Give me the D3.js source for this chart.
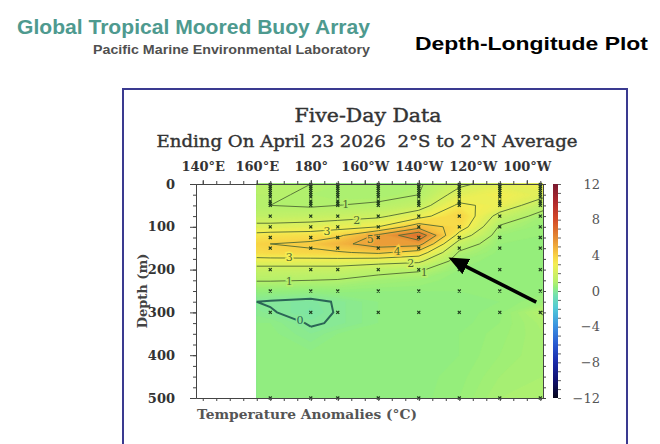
<!DOCTYPE html>
<html>
<head>
<meta charset="utf-8">
<script src="https://cdn.jsdelivr.net/npm/d3@7"></script>
<style>
  body { margin: 0; background: #fff; }
  svg { display: block; }
</style>
</head>
<body>
<svg id="chart" width="660" height="444"></svg>
<script>
// grid columns (degrees east) and rows (depth, m)
const lons = [160, 165, 180, 190, 205, 220, 235, 250, 266];
const depths = [0, 25, 50, 75, 100, 120, 140, 160, 180, 200, 225, 250, 275, 300, 325, 350, 400, 450, 500];

// temperature anomaly (°C), one row per depth, one value per column
const anomaly = [
    [1.1, 1.1, 1.0, 0.9, 0.8, 0.9, 1.8, 2.4, 3.0],
    [1.1, 1.1, 0.9, 0.8, 0.8, 1.0, 2.4, 3.0, 2.3],
    [1.0, 1.0, 0.9, 1.0, 1.1, 1.5, 3.2, 2.7, 1.3],
    [1.4, 1.4, 1.5, 1.6, 1.8, 2.6, 3.9, 1.6, 0.7],
    [2.3, 2.3, 2.4, 2.6, 3.0, 4.6, 3.6, 0.9, 0.5],
    [3.3, 3.4, 3.5, 3.8, 5.2, 6.8, 2.6, 0.6, 0.5],
    [3.9, 4.0, 4.2, 4.7, 5.5, 5.4, 1.5, 0.5, 0.4],
    [3.6, 3.7, 3.8, 3.9, 4.2, 3.6, 0.9, 0.45, 0.4],
    [2.6, 2.6, 2.6, 2.6, 2.4, 2.2, 0.6, 0.4, 0.4],
    [1.6, 1.6, 1.6, 1.6, 1.3, 1.1, 0.5, 0.4, 0.4],
    [1.05, 1.05, 1.0, 0.95, 0.7, 0.6, 0.4, 0.4, 0.4],
    [0.45, 0.45, 0.4, 0.45, 0.4, 0.4, 0.4, 0.4, 0.45],
    [0.0, -0.05, -0.15, 0.05, 0.3, 0.35, 0.35, 0.4, 0.6],
    [0.15, 0.05, -0.25, 0.05, 0.3, 0.35, 0.35, 0.45, 1.05],
    [0.3, 0.3, -0.05, 0.05, 0.3, 0.35, 0.35, 0.5, 0.85],
    [0.35, 0.35, 0.1, 0.3, 0.3, 0.35, 0.4, 0.55, 0.8],
    [0.35, 0.35, 0.35, 0.35, 0.35, 0.35, 0.4, 0.6, 0.8],
    [0.35, 0.35, 0.35, 0.35, 0.35, 0.35, 0.45, 0.7, 0.8],
    [0.35, 0.35, 0.35, 0.35, 0.35, 0.35, 0.5, 0.8, 0.85]
];

// mooring positions
const moorLons = [165, 180, 190, 205, 220, 235, 250, 265];
const moorDepths = [1, 5, 10, 15, 20, 25, 30, 40, 45, 50, 75, 100, 125, 150, 200, 250, 300, 500];

const lonTicks = [140, 160, 180, 200, 220, 240, 260];
const depthTicks = [0, 100, 200, 300, 400, 500];
const colorTicks = [12, 8, 4, 0, -4, -8, -12];
const lineLevels = [1, 2, 3, 4, 5, 6];

// contour labels: [level, lon, depth]
const contourLabels = [
    [1, 193, 47], [2, 197, 84], [3, 186, 110], [5, 202, 128], [4, 212, 157],
    [3, 172, 172], [2, 217, 184], [1, 222, 205], [1, 172, 227], [0, 176, 318]
];

// arrow, tail then tip, in lon / depth
const arrowPts = [[263.5, 276], [231, 172]];

// palette
const colorStops = [-12, -10, -8, -6, -4, -2, -0.5, 0, 0.4, 1, 2, 3, 4, 5, 6, 7, 8, 10, 12];
const colorHex = ['#05051a', '#101070', '#1a2aa8', '#2858d0', '#3a90e0', '#50c8d8', '#72e0b0', '#86e898',
    '#92ee7c', '#b4f06c', '#d4f060', '#f4ee52', '#f8d044', '#f0ac3c', '#e48a34', '#dc6a2c', '#d44a28',
    '#b0282c', '#7a1a30'];

const svg = d3.select('#chart');
const serif = "'DejaVu Serif', 'Liberation Serif', serif";
const sans = "'Liberation Sans', Arial, sans-serif";

const color = d3.scaleLinear().domain(colorStops).range(colorHex).clamp(true);

const x = d3.scaleLinear().domain([137.5, 266]).range([196, 543]);
const y = d3.scaleLinear().domain([0, 500]).range([184, 398]);

// ---- header ----
svg.append('text').attr('x', 17).attr('y', 34)
    .attr('font-family', sans).attr('font-weight', 'bold').attr('font-size', 20)
    .attr('fill', '#4e9a8f').attr('textLength', 353).attr('lengthAdjust', 'spacingAndGlyphs')
    .text('Global Tropical Moored Buoy Array');
svg.append('text').attr('x', 93).attr('y', 54)
    .attr('font-family', sans).attr('font-weight', 'bold').attr('font-size', 12.5)
    .attr('fill', '#505050').attr('textLength', 277).attr('lengthAdjust', 'spacingAndGlyphs')
    .text('Pacific Marine Environmental Laboratory');
svg.append('text').attr('x', 415).attr('y', 50)
    .attr('font-family', sans).attr('font-weight', 'bold').attr('font-size', 19)
    .attr('fill', '#000').attr('textLength', 233).attr('lengthAdjust', 'spacingAndGlyphs')
    .text('Depth-Longitude Plot');

// frame
svg.append('rect').attr('x', 123).attr('y', 89).attr('width', 504).attr('height', 380)
    .attr('fill', 'none').attr('stroke', '#3a3a90').attr('stroke-width', 2);

svg.append('text').attr('x', 368).attr('y', 122).attr('text-anchor', 'middle')
    .attr('font-family', serif).attr('font-size', 18).attr('fill', '#333')
    .attr('stroke', '#333').attr('stroke-width', 0.4)
    .attr('textLength', 147).attr('lengthAdjust', 'spacingAndGlyphs')
    .text('Five-Day Data');
svg.append('text').attr('x', 367).attr('y', 147).attr('text-anchor', 'middle')
    .attr('font-family', serif).attr('font-size', 17).attr('fill', '#333')
    .attr('stroke', '#333').attr('stroke-width', 0.4)
    .style('white-space', 'pre')
    .attr('textLength', 421).attr('lengthAdjust', 'spacingAndGlyphs')
    .text('Ending On April 23 2026  2°S to 2°N Average');

// ---- filled field ----
const n = lons.length, m = depths.length;
const values = anomaly.flat();
const gx = d3.scaleLinear().domain(lons.map((d, i) => i + 0.5)).range(lons).clamp(true);
const gy = d3.scaleLinear().domain(depths.map((d, i) => i + 0.5)).range(depths).clamp(true);
const toPx = p => [x(gx(p[0])), y(gy(p[1]))];
const proj = d3.geoTransform({
    point: function (px, py) {
        const q = toPx([px, py]);
        this.stream.point(q[0], q[1]);
    }
});
const path = d3.geoPath(proj);

const bandLevels = d3.range(-10, 80).map(i => i / 10);
const bands = d3.contours().size([n, m]).thresholds(bandLevels)(values);

const plot = svg.append('g');
plot.append('rect').attr('x', 196).attr('y', 184).attr('width', 347).attr('height', 214).attr('fill', '#fff');
plot.selectAll('path.band')
    .data(bands)
    .enter().append('path')
    .attr('class', 'band')
    .attr('d', path)
    .attr('fill', d => color(d.value + 0.05))
    .attr('stroke', d => color(d.value + 0.05))
    .attr('stroke-width', 0.3);

// contour lines, without the pieces that run along the grid edge
const x0 = x(lons[0]), x1 = x(lons[n - 1]), y0 = y(depths[0]), y1 = y(depths[m - 1]);
function onEdge(a, b)
{
    return (a[0] === x0 && b[0] === x0) || (a[0] === x1 && b[0] === x1) ||
        (a[1] === y0 && b[1] === y0) || (a[1] === y1 && b[1] === y1);
}
function openLines(geom)
{
    var segs = [];
    geom.coordinates.forEach(function (poly)
    {
        poly.forEach(function (ring)
        {
            var pts = ring.map(toPx);
            var cur = [];
            for (var k = 1; k < pts.length; k++)
            {
                var a = pts[k - 1], b = pts[k];
                if (onEdge(a, b))
                {
                    if (cur.length > 1) segs.push(cur);
                    cur = [];
                    continue;
                }
                if (!cur.length) cur.push(a);
                cur.push(b);
            }
            if (cur.length > 1) segs.push(cur);
        });
    });
    return segs;
}

const line = d3.line();
const lineGeoms = d3.contours().size([n, m]).thresholds(lineLevels)(values);
lineGeoms.forEach(function (g)
{
    plot.append('g').selectAll('path')
        .data(openLines(g))
        .enter().append('path')
        .attr('d', line)
        .attr('fill', 'none')
        .attr('stroke', '#4f6a34')
        .attr('stroke-width', 0.9);
});
const zeroGeom = d3.contours().size([n, m]).thresholds([0])(values)[0];
plot.append('g').selectAll('path')
    .data(openLines(zeroGeom))
    .enter().append('path')
    .attr('d', line)
    .attr('fill', 'none')
    .attr('stroke', '#2b6656')
    .attr('stroke-width', 2);

// mooring markers
const moorings = moorLons.flatMap(lo => moorDepths.map(de => [lo, de]));
plot.append('g').selectAll('path')
    .data(moorings)
    .enter().append('path')
    .attr('d', d => {
        const px = x(d[0]), py = y(d[1]);
        return `M${px - 1.5},${py - 1.5}L${px + 1.5},${py + 1.5}M${px - 1.5},${py + 1.5}L${px + 1.5},${py - 1.5}`;
    })
    .attr('stroke', '#1e3a1c')
    .attr('stroke-width', 1.2);

// contour labels
plot.append('g').selectAll('text')
    .data(contourLabels)
    .enter().append('text')
    .attr('x', d => x(d[1]))
    .attr('y', d => y(d[2]))
    .attr('dy', '0.35em')
    .attr('text-anchor', 'middle')
    .attr('font-family', serif)
    .attr('font-size', 11)
    .attr('fill', d => d[0] === 0 ? '#2b6656' : '#4f6a34')
    .attr('stroke', d => color(d[0]))
    .attr('stroke-width', 3)
    .attr('paint-order', 'stroke')
    .text(d => d[0]);

// ---- axes ----
const fmtLon = d => d < 180 ? d + '°E' : d === 180 ? '180°' : (360 - d) + '°W';
const axisColor = '#444';

function styleAxis(g)
{
    g.selectAll('path, line').attr('stroke', axisColor);
    g.selectAll('text').attr('fill', '#333').attr('font-family', serif)
        .attr('font-weight', 'bold').attr('font-size', 13);
}

svg.append('g').attr('transform', 'translate(0,184)')
    .call(d3.axisTop(x).tickValues(d3.range(140, 266, 5)).tickSize(3).tickSizeOuter(0).tickFormat(''))
    .call(styleAxis);
svg.append('g').attr('transform', 'translate(0,184)')
    .call(d3.axisTop(x).tickValues(lonTicks).tickSize(4).tickSizeOuter(0).tickPadding(9).tickFormat(fmtLon))
    .call(styleAxis);
svg.append('g').attr('transform', 'translate(0,398)')
    .call(d3.axisBottom(x).tickValues(d3.range(140, 266, 5)).tickSize(3).tickSizeOuter(0).tickFormat(''))
    .call(styleAxis);
svg.append('g').attr('transform', 'translate(196,0)')
    .call(d3.axisLeft(y).tickValues(d3.range(0, 501, 25)).tickSize(3).tickSizeOuter(0).tickFormat(''))
    .call(styleAxis);
svg.append('g').attr('transform', 'translate(196,0)')
    .call(d3.axisLeft(y).tickValues(depthTicks).tickSize(6).tickSizeOuter(0).tickPadding(15))
    .call(styleAxis);
svg.append('g').attr('transform', 'translate(543,0)')
    .call(d3.axisRight(y).tickValues(d3.range(0, 501, 25)).tickSize(3).tickSizeOuter(0).tickFormat(''))
    .call(styleAxis);

svg.append('text')
    .attr('transform', 'translate(147,291) rotate(-90)')
    .attr('text-anchor', 'middle')
    .attr('font-family', serif).attr('font-weight', 'bold').attr('font-size', 13).attr('fill', '#444')
    .text('Depth (m)');
svg.append('text').attr('x', 197).attr('y', 419)
    .attr('font-family', serif).attr('font-weight', 'bold').attr('font-size', 13).attr('fill', '#555')
    .attr('textLength', 220).attr('lengthAdjust', 'spacingAndGlyphs')
    .text('Temperature Anomalies (°C)');

// ---- arrow ----
const defs = svg.append('defs');
defs.append('marker').attr('id', 'head')
    .attr('markerUnits', 'userSpaceOnUse')
    .attr('markerWidth', 22).attr('markerHeight', 18)
    .attr('refX', 4).attr('refY', 8.5)
    .attr('orient', 'auto')
    .append('path').attr('d', 'M0,0L20,8.5L0,17Z').attr('fill', '#000');
const tail = [x(arrowPts[0][0]), y(arrowPts[0][1])];
const tip = [x(arrowPts[1][0]), y(arrowPts[1][1])];
const len = Math.hypot(tip[0] - tail[0], tip[1] - tail[1]);
const end = [tip[0] - (tip[0] - tail[0]) * 16 / len, tip[1] - (tip[1] - tail[1]) * 16 / len];
svg.append('line')
    .attr('x1', tail[0]).attr('y1', tail[1]).attr('x2', end[0]).attr('y2', end[1])
    .attr('stroke', '#000').attr('stroke-width', 3.5)
    .attr('marker-end', 'url(#head)');

// ---- colour bar ----
const cb = d3.scaleLinear().domain([-12, 12]).range([398, 184]);
const grad = defs.append('linearGradient').attr('id', 'cbar')
    .attr('x1', 0).attr('y1', 1).attr('x2', 0).attr('y2', 0);
grad.selectAll('stop')
    .data(colorStops)
    .enter().append('stop')
    .attr('offset', d => (d + 12) / 24)
    .attr('stop-color', d => color(d));
svg.append('rect').attr('x', 553).attr('y', 184).attr('width', 5).attr('height', 214)
    .attr('fill', 'url(#cbar)');
svg.append('g').attr('transform', 'translate(558,0)')
    .call(d3.axisRight(cb).tickValues(d3.range(-12, 13, 1)).tickSize(3).tickFormat(''))
    .call(g => g.select('.domain').remove())
    .call(g => g.selectAll('line').attr('stroke', '#666'));
svg.append('g').selectAll('text')
    .data(colorTicks)
    .enter().append('text')
    .attr('x', 600)
    .attr('y', d => cb(d))
    .attr('dy', '0.35em')
    .attr('text-anchor', 'end')
    .attr('font-family', serif).attr('font-size', 13).attr('fill', '#555')
    .text(d => d3.format('d')(d));
</script>
</body>
</html>
